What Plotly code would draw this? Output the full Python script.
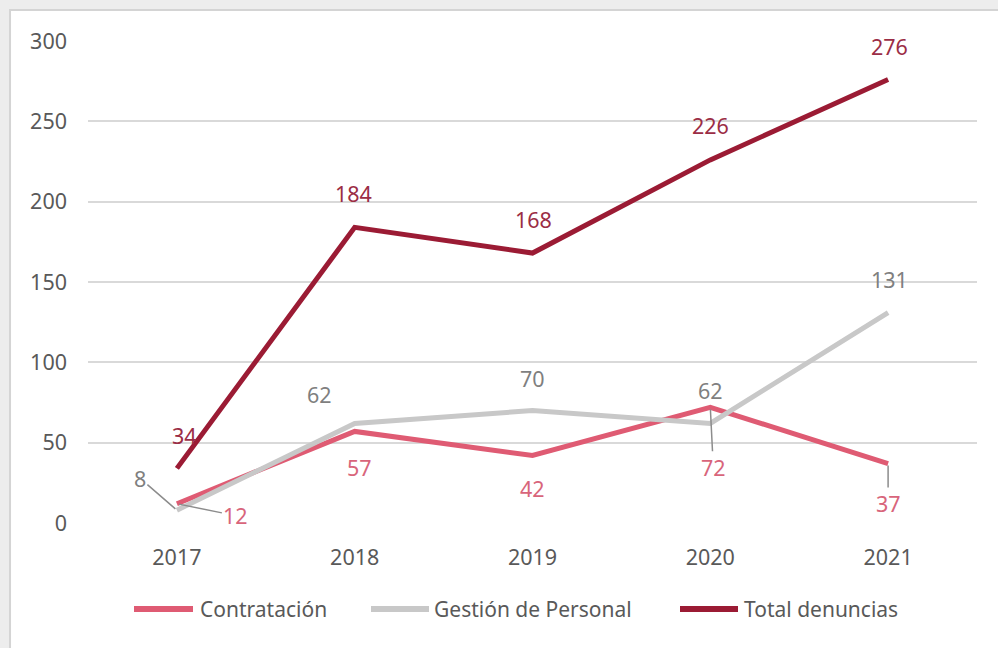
import plotly.graph_objects as go

years = ["2017", "2018", "2019", "2020", "2021"]
contratacion = [12, 57, 42, 72, 37]
gestion = [8, 62, 70, 62, 131]
total = [34, 184, 168, 226, 276]
y_ticks = [0, 50, 100, 150, 200, 250, 300]
series_names = ["Contratación", "Gestión de Personal", "Total denuncias"]

xpos = list(range(len(years)))

C_CON = "#DF5B73"
C_GES = "#C8C8C8"
C_TOT = "#9B1B34"
L_CON = "#D8657B"
L_GES = "#7F7F7F"
L_TOT = "#9B2D45"
FONT = "Noto Sans"

fig = go.Figure()
for name, vals, col in zip(series_names, [contratacion, gestion, total], [C_CON, C_GES, C_TOT]):
    fig.add_trace(go.Scatter(x=xpos, y=vals, name=name, mode="lines",
                             line=dict(color=col, width=5), showlegend=False))

# label offsets in pixels (dx, dy with dy down positive), leader flag
tot_off = [(8, -33, False), (-1, -34, False), (1, -34, False), (0, -34, False), (1, -33, False)]
ges_off = [(-37, -32, True), (-35, -29, False), (0, -32, False), (0, -33, False), (1, -33, False)]
con_off = [(59, 12, True), (5, 36, False), (0, 33, False), (3, 60, True), (0, 40, True)]

annotations = []
for vals, offs, col in [(total, tot_off, L_TOT), (gestion, ges_off, L_GES), (contratacion, con_off, L_CON)]:
    for xp, v, (dx, dy, lead) in zip(xpos, vals, offs):
        if lead:
            annotations.append(dict(x=xp, y=v, xref="x", yref="y", text=str(v), showarrow=True,
                                    ax=dx, ay=dy, axref="pixel", ayref="pixel",
                                    arrowhead=0, arrowwidth=1.5, arrowcolor="#8C8C8C",
                                    standoff=2, font=dict(family=FONT, size=21.5, color=col)))
        else:
            annotations.append(dict(x=xp, y=v, xref="x", yref="y", text=str(v), showarrow=False,
                                    xshift=dx, yshift=-dy,
                                    font=dict(family=FONT, size=21.5, color=col)))

# custom legend (line swatch + text) in paper coordinates
PL, PW, PB, PH = 88, 889, 523, 482
def px_x(p):
    return (p - PL) / PW
leg_y = -(609 - PB) / PH
leg_sym = [(134, 193, 198), (371, 429, 432), (680, 738, 742)]
shapes = [dict(type="rect", xref="paper", yref="paper", x0=-0.0877, x1=1.2, y0=-0.4, y1=1.0643,
               fillcolor="white", line=dict(color="#D4D4D4", width=2), layer="below")]
for name, col, (s0, s1, t0) in zip(series_names, [C_CON, C_GES, C_TOT], leg_sym):
    shapes.append(dict(type="line", xref="paper", yref="paper", x0=px_x(s0), x1=px_x(s1),
                       y0=leg_y, y1=leg_y, line=dict(color=col, width=6)))
    annotations.append(dict(x=px_x(t0), y=leg_y, xref="paper", yref="paper", text=name,
                            showarrow=False, xanchor="left", yanchor="middle",
                            font=dict(family=FONT, size=21, color="#595959")))

fig.update_layout(
    width=998, height=648,
    margin=dict(l=88, r=21, t=41, b=125),
    paper_bgcolor="#EDEDED",
    plot_bgcolor="rgba(0,0,0,0)",
    font=dict(family=FONT, size=21, color="#595959"),
    showlegend=False,
    annotations=annotations,
    shapes=shapes,
)
fig.update_xaxes(range=[-0.5, 4.5], tickvals=xpos, ticktext=years, showgrid=False,
                 showline=False, zeroline=False, ticks="", ticklabelstandoff=19,
                 tickfont=dict(size=21.5, color="#595959"))
fig.update_yaxes(range=[0, 300], tickvals=y_ticks, showgrid=True, gridcolor="#D9D9D9",
                 gridwidth=2, zeroline=False, showline=False, ticks="", ticklabelstandoff=20,
                 tickfont=dict(size=21.5, color="#595959"))

fig.write_html("out.html")
